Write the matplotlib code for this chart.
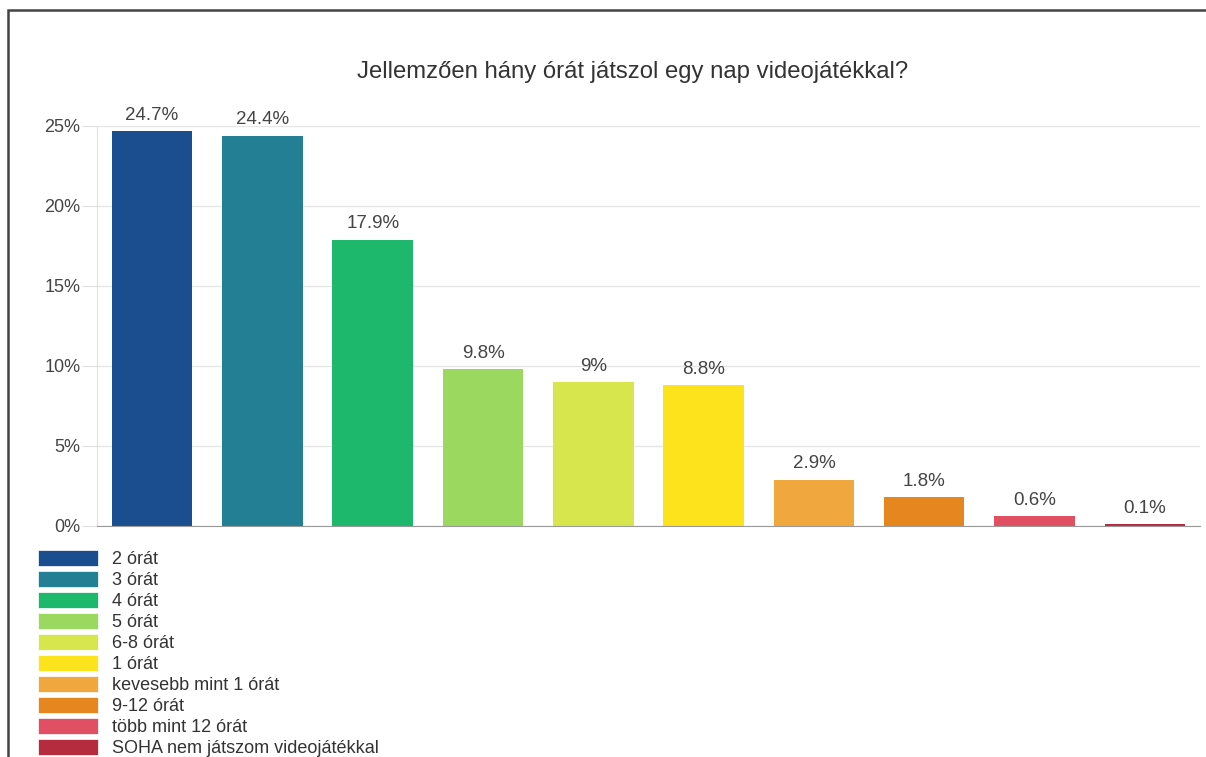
import matplotlib.pyplot as plt
from matplotlib.patches import Rectangle, Patch

plt.rcParams['font.family'] = ['Liberation Sans', 'DejaVu Sans']

labels = ['2 órát', '3 órát', '4 órát', '5 órát', '6-8 órát', '1 órát',
          'kevesebb mint 1 órát', '9-12 órát', 'több mint 12 órát',
          'SOHA nem játszom videojátékkal']
values = [24.7, 24.4, 17.9, 9.8, 9.0, 8.8, 2.9, 1.8, 0.6, 0.1]
value_text = ['24.7%', '24.4%', '17.9%', '9.8%', '9%', '8.8%', '2.9%', '1.8%', '0.6%', '0.1%']
colors = ['#1a4e8f', '#237f94', '#1db86c', '#9bd860', '#d8e64d', '#fde31c',
          '#f0a73d', '#e5861f', '#e05062', '#b52c3e']
yticks = [0, 5, 10, 15, 20, 25]
title = 'Jellemzően hány órát játszol egy nap videojátékkal?'

fig = plt.figure(figsize=(12.06, 7.57), dpi=100)
ax = fig.add_axes([0.0804, 0.3052, 0.9146, 0.5284])

x = list(range(len(values)))
bars = ax.bar(x, values, width=0.73, color=colors, zorder=3)
for b, t in zip(bars, value_text):
    ax.text(b.get_x() + b.get_width() / 2, b.get_height() + 0.45, t,
            ha='center', va='bottom', fontsize=13.5, color='#444444')

ax.set_xlim(-0.5, len(values) - 0.5)
ax.set_ylim(0, 25)
ax.set_yticks(yticks)
ax.set_yticklabels([f'{v}%' for v in yticks], fontsize=13, color='#444444')
ax.set_xticks([])
ax.tick_params(axis='y', length=11, color='#e0e0e0', pad=1)
ax.grid(axis='y', color='#e6e6e6', linewidth=1, zorder=0)
for s in ['top', 'right']:
    ax.spines[s].set_visible(False)
ax.spines['left'].set_color('#e0e0e0')
ax.spines['bottom'].set_color('#9a9a9a')
ax.spines['bottom'].set_zorder(4)

fig.text(0.5245, 0.905, title, ha='center', va='center', fontsize=17.2, color='#333333')

handles = [Patch(facecolor=c, edgecolor='white', linewidth=0.5) for c in colors]
fig.legend(handles, labels, loc='upper left', bbox_to_anchor=(0.0315, 0.2729),
           frameon=False, fontsize=13, handlelength=3.33, handleheight=0.94,
           labelspacing=0.17, handletextpad=0.78, borderaxespad=0, borderpad=0,
           labelcolor='#333333')

fig.patches.append(Rectangle((8 / 1206, -0.01), 1.1, (757 - 10) / 757 + 0.01,
                             transform=fig.transFigure, fill=False,
                             edgecolor='#444444', linewidth=1.8))

fig.savefig('out.png', dpi=100)
